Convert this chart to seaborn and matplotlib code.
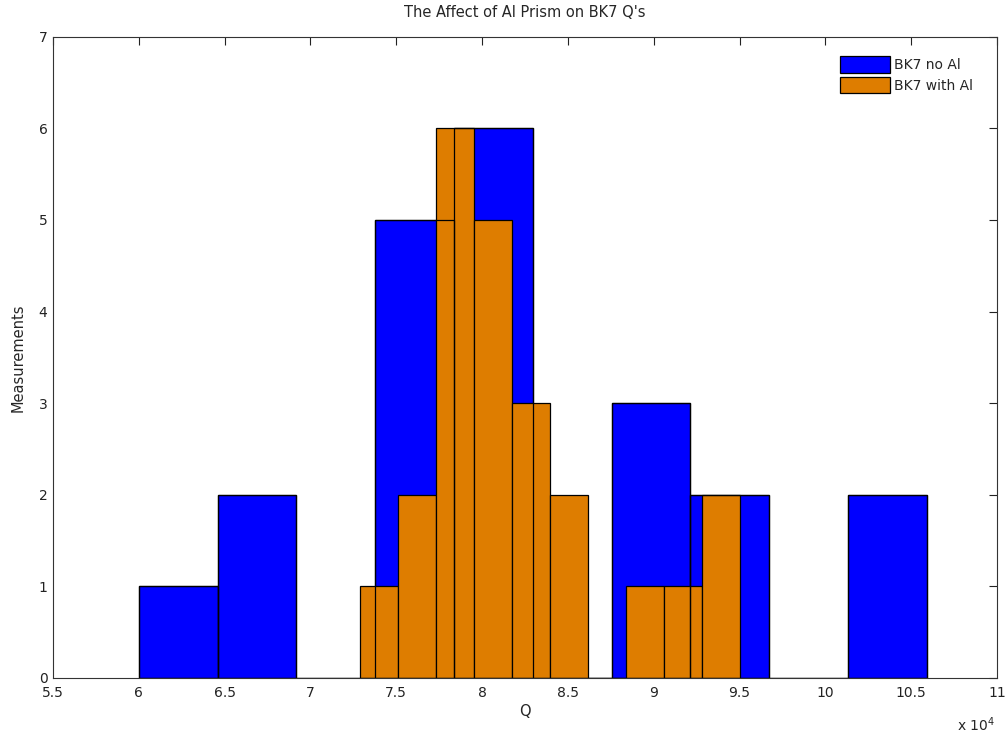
import numpy as np
import matplotlib
matplotlib.use("Agg")
import matplotlib.pyplot as plt
import seaborn as sns
from matplotlib.patches import Patch
from matplotlib.ticker import FormatStrFormatter, MultipleLocator

# -------------------------------
# Data (histogram counts, Q in units of 1e4)
# -------------------------------
n_bins = 10
no_al_range = (6.00e4, 10.59e4)
no_al_counts = [1, 2, 0, 5, 6, 0, 3, 2, 0, 2]
with_al_range = (7.29e4, 9.50e4)
with_al_counts = [1, 2, 6, 5, 3, 2, 0, 1, 1, 2]
q_scale = 1e4

blue = "#0000FF"
orange = "#DE7D00"

sns.set_style("white")
plt.rcParams["font.family"] = ["DejaVu Sans"]
plt.rcParams["font.size"] = 10


def bin_centers(rng):
    lo, hi = rng[0] / q_scale, rng[1] / q_scale
    w = (hi - lo) / n_bins
    return lo + w * (np.arange(n_bins) + 0.5), (lo, hi)


fig = plt.figure(figsize=(10.06, 7.32), dpi=100)
ax = fig.add_axes([0.0527, 0.0738, 0.9384, 0.8760])

x_no, rng_no = bin_centers(no_al_range)
x_with, rng_with = bin_centers(with_al_range)

# blue bars
sns.histplot(x=x_no, weights=no_al_counts, bins=n_bins, binrange=rng_no,
             color=blue, edgecolor="black", linewidth=0.9, alpha=1, ax=ax)
# orange bars on top
sns.histplot(x=x_with, weights=with_al_counts, bins=n_bins, binrange=rng_with,
             color=orange, edgecolor="black", linewidth=0.9, alpha=1, ax=ax)
# blue outlines drawn over everything (as in the original render)
sns.histplot(x=x_no, weights=no_al_counts, bins=n_bins, binrange=rng_no,
             fill=False, color="black", linewidth=0.9, ax=ax)

ax.set_xlim(5.5, 11)
ax.set_ylim(0, 7)
ax.xaxis.set_major_locator(MultipleLocator(0.5))
ax.xaxis.set_major_formatter(FormatStrFormatter("%g"))
ax.yaxis.set_major_locator(MultipleLocator(1))

ax.tick_params(direction="in", length=6, width=0.8, top=True, right=True,
               labelsize=10, colors="#222222")
ax.tick_params(axis="x", pad=6)
ax.tick_params(axis="y", pad=4)
for s in ax.spines.values():
    s.set_color("#333333")
    s.set_linewidth(0.8)

ax.set_title("The Affect of Al Prism on BK7 Q's", fontsize=10.5, pad=14)
ax.set_xlabel("Q", fontsize=10.5, labelpad=3)
ax.set_ylabel("Measurements", fontsize=10.5, labelpad=9)
ax.text(0.998, -0.058, r"x 10$^4$", transform=ax.transAxes,
        ha="right", va="top", fontsize=10)

handles = [
    Patch(facecolor=blue, edgecolor="black", linewidth=0.9, label="BK7 no Al"),
    Patch(facecolor=orange, edgecolor="black", linewidth=0.9, label="BK7 with Al"),
]
ax.legend(handles=handles, loc="upper right", bbox_to_anchor=(0.985, 0.985),
          frameon=False, fontsize=10, handlelength=3.6, handleheight=1.45,
          handletextpad=0.3, labelspacing=0.3, borderaxespad=0.3)

plt.savefig("out.png", dpi=100)
plt.close()
